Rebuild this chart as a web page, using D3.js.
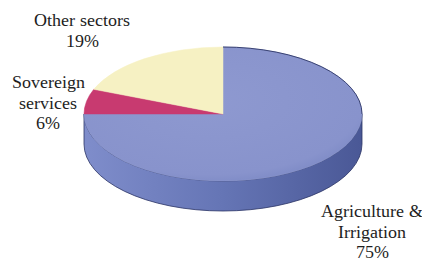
<!DOCTYPE html>
<html>
<head>
<meta charset="utf-8">
<script src="https://cdn.jsdelivr.net/npm/d3@7"></script>
<style>
  @font-face { font-family: "LabelSerif"; src: local("Liberation Serif"), local("LiberationSerif"), local("Times New Roman"); }
  body { margin: 0; background: #fff; }
  #chart { position: relative; width: 422px; height: 263px; }
  #chart svg { position: absolute; left: 0; top: 0; }
  .lbl {
    position: absolute;
    font-family: "LabelSerif", "Liberation Serif", "Times New Roman", serif;
    font-size: 18px;
    line-height: 18px;
    color: #1e1e1e;
    white-space: nowrap;
    transform: translateX(-50%);
  }
</style>
</head>
<body>
<div id="chart"></div>
<script>
var width = 422, height = 263;

// slices, clockwise from 12 o'clock
var sectors = ["Agriculture & Irrigation", "Sovereign services", "Other sectors"];
var shares = [75, 6, 19];
var labelLines = [["Agriculture &", "Irrigation"], ["Sovereign", "services"], ["Other sectors"]];

var topColors = ["#8b96cf", "#c83a70", "#f6f1c3"];
var sideColors = ["#6b79b8", "#9c2a55", "#cfc99a"];

// ellipse geometry
var cx = 223, cy = 114, rx = 139, ry = 67, depth = 30;

// label anchor (centre x, first baseline)
var labelPos = [[372, 217], [48, 88], [82, 26]];

var chart = d3.select("#chart");

var svg = chart.append("svg")
    .attr("width", width)
    .attr("height", height);

var defs = svg.append("defs");

var sideGrad = defs.append("linearGradient")
    .attr("id", "side0")
    .attr("x1", "0").attr("x2", "1").attr("y1", "0").attr("y2", "0");
sideGrad.append("stop").attr("offset", "0").attr("stop-color", "#7f8dcb");
sideGrad.append("stop").attr("offset", "0.5").attr("stop-color", "#6575b5");
sideGrad.append("stop").attr("offset", "1").attr("stop-color", "#4a5896");

var topGrad = defs.append("radialGradient")
    .attr("id", "top0")
    .attr("cx", "0.45").attr("cy", "0.4").attr("r", "0.65");
topGrad.append("stop").attr("offset", "0").attr("stop-color", "#8e99d0");
topGrad.append("stop").attr("offset", "0.85").attr("stop-color", "#8893cc");
topGrad.append("stop").attr("offset", "1").attr("stop-color", "#7b88c4");

var pie = d3.pie().sort(null).value(function(d) { return d; });
var arcs = pie(shares);

function pt(a, dy) {
  return [cx + rx * Math.sin(a), cy - ry * Math.cos(a) + (dy || 0)];
}

function topPath(d) {
  var s = pt(d.startAngle), e = pt(d.endAngle);
  var large = d.endAngle - d.startAngle > Math.PI ? 1 : 0;
  return "M" + cx + "," + cy + "L" + s + "A" + rx + "," + ry + " 0 " + large + " 1 " + e + "Z";
}

function sidePath(d) {
  var a0 = Math.max(d.startAngle, Math.PI / 2),
      a1 = Math.min(d.endAngle, 3 * Math.PI / 2);
  if (a1 <= a0) return null;
  var s = pt(a0), e = pt(a1), s2 = pt(a0, depth), e2 = pt(a1, depth);
  var large = a1 - a0 > Math.PI ? 1 : 0;
  return "M" + s + "A" + rx + "," + ry + " 0 " + large + " 1 " + e +
    "L" + e2 + "A" + rx + "," + ry + " 0 " + large + " 0 " + s2 + "Z";
}

// sides first
svg.selectAll("path.side")
    .data(arcs.filter(function(d) { return sidePath(d); }))
    .enter()
    .append("path")
    .attr("class", "side")
    .attr("d", sidePath)
    .attr("fill", function(d) { return d.index === 0 ? "url(#side0)" : sideColors[d.index]; })
    .attr("stroke", "#2c3566")
    .attr("stroke-width", 0.8);

svg.selectAll("path.top")
    .data(arcs)
    .enter()
    .append("path")
    .attr("class", "top")
    .attr("d", topPath)
    .attr("fill", function(d) { return d.index === 0 ? "url(#top0)" : topColors[d.index]; })
    .attr("stroke", function(d) { return topColors[d.index]; })
    .attr("stroke-width", 0.5);

// dark rim on the right of the top ellipse
svg.append("path")
    .attr("d", "M" + pt(0) + "A" + rx + "," + ry + " 0 0 1 " + pt(Math.PI / 2))
    .attr("fill", "none")
    .attr("stroke", "#2c3566")
    .attr("stroke-width", 0.9);

// labels as html lines over the svg, one per line
var lineData = [];
arcs.forEach(function(d) {
  var lines = labelLines[d.index].concat([shares[d.index] + "%"]);
  lines.forEach(function(l, i) {
    lineData.push({text: l, x: labelPos[d.index][0], y: labelPos[d.index][1] + i * 20.5});
  });
});

chart.selectAll("div.lbl")
    .data(lineData)
    .enter()
    .append("div")
    .attr("class", "lbl")
    .style("left", function(d) { return d.x + "px"; })
    .style("top", function(d) { return (d.y - 15) + "px"; })
    .text(function(d) { return d.text; });
</script>
</body>
</html>
